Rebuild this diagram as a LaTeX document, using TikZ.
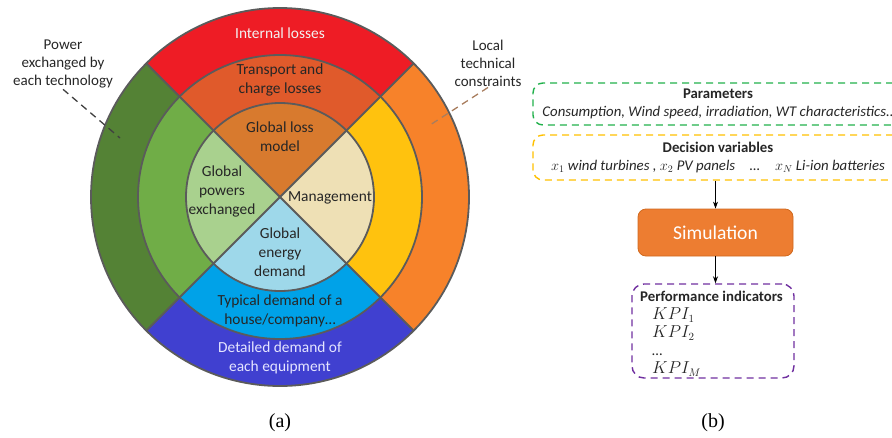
\documentclass[tikz,border=0pt]{standalone}
\usepackage{fontspec}
\setmainfont{Carlito}
\newfontfamily\capfont{Liberation Serif}
\usetikzlibrary{arrows.meta}
\definecolor{oRed}{HTML}{EE1C25}
\definecolor{oGreen}{HTML}{548235}
\definecolor{oOrange}{HTML}{F7822A}
\definecolor{oBlue}{HTML}{4040D0}
\definecolor{mTop}{HTML}{E05A2B}
\definecolor{mLeft}{HTML}{70AD47}
\definecolor{mRight}{HTML}{FFC20E}
\definecolor{mBot}{HTML}{00A2E8}
\definecolor{iTop}{HTML}{D87A2E}
\definecolor{iLeft}{HTML}{A9D18E}
\definecolor{iRight}{HTML}{EEE0B5}
\definecolor{iBot}{HTML}{9ED8EA}
\definecolor{ringline}{HTML}{5B5B5B}
\definecolor{txt}{HTML}{262626}
\definecolor{pGreen}{HTML}{22B14C}
\definecolor{pYellow}{HTML}{FFC000}
\definecolor{pPurple}{HTML}{7030A0}
\definecolor{simFill}{HTML}{ED7D31}
\definecolor{simLine}{HTML}{D0691E}
\definecolor{brownline}{HTML}{A87D5E}
\newcommand\annsec[5]{\fill[#1] (#2:#4) arc[start angle=#2, end angle=#3, radius=#4] -- (#3:#5) arc[start angle=#3, end angle=#2, radius=#5] -- cycle;}
\newcommand\piesec[4]{\fill[#1] (0,0) -- (#2:#4) arc[start angle=#2, end angle=#3, radius=#4] -- cycle;}
\begin{document}
\begin{tikzpicture}[x=1pt,y=-1pt,
  ringtxt/.style={text=txt, align=center, font=\fontsize{15.4}{19}\selectfont, inner sep=0pt},
  sidelbl/.style={text=black!85, align=center, font=\fontsize{15}{18}\selectfont, inner sep=1pt},
  dashbox/.style={draw, line width=1.4pt, dash pattern=on 7pt off 5pt, rounded corners=10pt},
  paneltxt/.style={font=\fontsize{14.8}{18}\selectfont, text=black!85},
  arr/.style={-{Stealth[length=7pt,width=5pt]}, line width=0.9pt, black}
]
\useasboundingbox (0,0) rectangle (892,437);
\begin{scope}[shift={(280,197)}]
  \annsec{oRed}{225}{315}{189}{142}
  \annsec{oOrange}{-45}{45}{189}{142}
  \annsec{oBlue}{45}{135}{189}{142}
  \annsec{oGreen}{135}{225}{189}{142}
  \annsec{mTop}{225}{315}{142}{94}
  \annsec{mRight}{-45}{45}{142}{94}
  \annsec{mBot}{45}{135}{142}{94}
  \annsec{mLeft}{135}{225}{142}{94}
  \piesec{iTop}{225}{315}{94}
  \piesec{iRight}{-45}{45}{94}
  \piesec{iBot}{45}{135}{94}
  \piesec{iLeft}{135}{225}{94}
  \draw[ringline, line width=1.8pt] (0,0) circle[radius=189];
  \draw[ringline, line width=1.8pt] (0,0) circle[radius=142];
  \draw[ringline, line width=1.8pt] (0,0) circle[radius=94];
  \draw[ringline, line width=1.8pt] (225:189) -- (45:189);
  \draw[ringline, line width=1.8pt] (135:189) -- (315:189);
\end{scope}
% ring texts
\node[ringtxt, text=white!95!black] (il) at (280,33) {Internal losses};
\node[ringtxt] (tc) at (280,80) {Transport and\\charge losses};
\node[ringtxt] (gl) at (280,137) {Global loss\\model};
\node[ringtxt] (gp) at (222,191) {Global\\powers\\exchanged};
\node[ringtxt] (mg) at (330,198) {Management};
\node[ringtxt] (ge) at (280,252) {Global\\energy\\demand};
\node[ringtxt] (td) at (280,311) {Typical demand of a\\house/company\ldots};
\node[ringtxt, text=blue!10!white] (dd) at (280,358) {Detailed demand of\\each equipment};
% side labels
\node[sidelbl] (pw) at (63,64) {Power\\exchanged by\\each technology};
\coordinate (pwend) at (120,138);
\draw[black!75, line width=1.3pt, dash pattern=on 7pt off 5pt] (pw.south) -- (pwend);
\node[sidelbl] (lc) at (488,63) {Local\\technical\\constraints};
\coordinate (lcend) at (430,125);
\draw[brownline, line width=1.3pt, dash pattern=on 7pt off 5pt] (lc.south) -- (lcend);
% right panel
\node[dashbox, draw=pGreen, minimum width=370pt, minimum height=42pt, align=center, paneltxt] (par) at (718,104)
  {\textbf{Parameters}\\\textit{Consumption, Wind speed, irradiation, WT characteristics..}};
\node[dashbox, draw=pYellow, minimum width=370pt, minimum height=45pt, align=center, paneltxt] (dec) at (718,157.5)
  {\textbf{Decision variables}\\\textit{$x_1$ wind turbines , $x_2$ PV panels\quad \ldots\quad $x_N$ Li-ion batteries}};
\node[draw=simLine, fill=simFill, line width=0.8pt, rounded corners=8pt, minimum width=155pt,
      minimum height=47pt, text=white, font=\fontsize{19.6}{22}\selectfont] (sim) at (715.5,232.5) {Simulation};
\node[dashbox, draw=pPurple, rounded corners=12pt, minimum width=162pt, minimum height=94pt] (perf) at (713,331) {};
\node[anchor=west, align=left, inner sep=0pt, paneltxt] (perftxt) at (640,334)
  {\textbf{Performance indicators}\\
   \hspace{12pt}{\fontsize{16}{18}\selectfont$KPI_1$}\\
   \hspace{12pt}{\fontsize{16}{18}\selectfont$KPI_2$}\\
   \hspace{12pt}\ldots\\
   \hspace{12pt}{\fontsize{16}{18}\selectfont$KPI_M$}};
\draw[arr] (sim.north |- dec.south) -- (sim.north);
\draw[arr] (sim.south) -- (sim.south |- perf.north);
% captions
\node[font=\capfont\fontsize{20}{24}\selectfont] (capa) at (280,423) {(a)};
\node[font=\capfont\fontsize{20}{24}\selectfont] (capb) at (713,423) {(b)};
\end{tikzpicture}
\end{document}
